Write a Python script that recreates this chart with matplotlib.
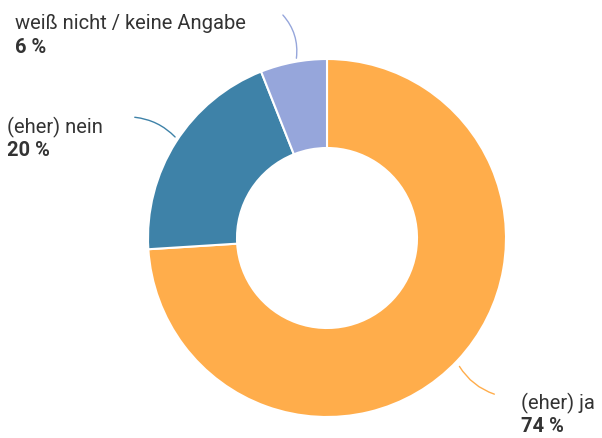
import matplotlib.pyplot as plt

labels = ["(eher) ja", "(eher) nein", "weiß nicht / keine Angabe"]
values = [74, 20, 6]
pct_labels = ["74 %", "20 %", "6 %"]
colors = ["#FFAD4B", "#3E82A8", "#96A6DB"]

plt.rcParams['font.family'] = ['Roboto', 'DejaVu Sans']

W, H = 602, 439
fig = plt.figure(figsize=(W / 100, H / 100), dpi=100)
ax = fig.add_axes([0, 0, 1, 1])

cx, cy, R = 327, H - 239, 179
wedges, _ = ax.pie(values, colors=colors, startangle=90, counterclock=False,
                   center=(cx, cy), radius=R, frame=True,
                   wedgeprops=dict(width=R - 90, edgecolor='white', linewidth=1.5))
ax.set_xlim(0, W)
ax.set_ylim(0, H)
ax.set_aspect('equal')
ax.axis('off')

# label positions (pixel coords, top-left origin) and leader lines
txt_pos = [(521, 403), (7, 127), (15, 23)]
line_pts = [((458, 365), (497, 396), 0.2),
            ((177, 140), (132, 118), 0.2),
            ((296, 62), (281, 14), 0.25)]

for i in range(len(values)):
    x, y = txt_pos[i]
    ax.text(x, H - y, labels[i], fontsize=14.5, color='#333333', va='center', ha='left')
    ax.text(x, H - y - 24, pct_labels[i], fontsize=14.5, fontweight='bold',
            color='#333333', va='center', ha='left')
    (x0, y0), (x1, y1), rad = line_pts[i]
    ax.annotate("", xy=(x1, H - y1), xytext=(x0, H - y0),
                arrowprops=dict(arrowstyle='-', color=colors[i], lw=1,
                                connectionstyle="arc3,rad=%s" % rad))

fig.savefig("out.png", dpi=100)
